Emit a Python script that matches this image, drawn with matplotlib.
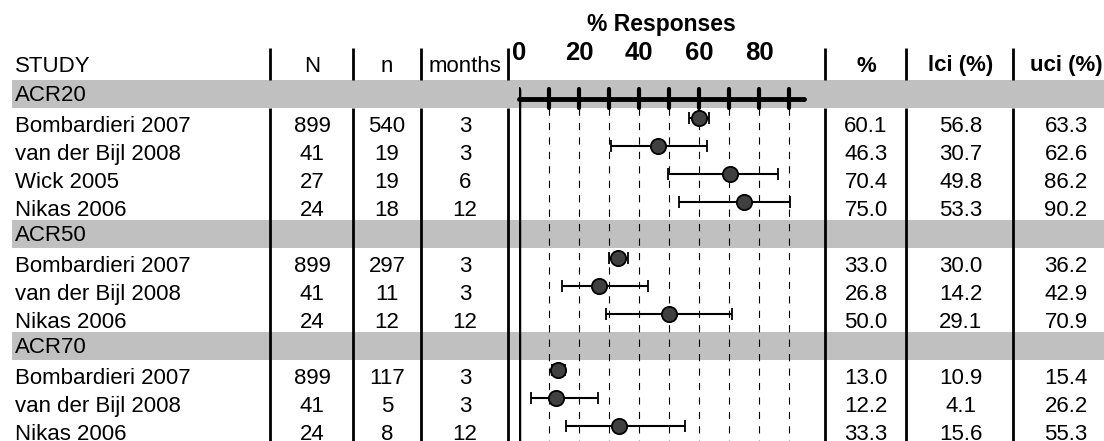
import numpy as np
import matplotlib
matplotlib.use("Agg")
import matplotlib.pyplot as plt

plt.rcParams['font.family'] = ['Liberation Sans', 'DejaVu Sans']

# ---------------- data ----------------
groups = ["ACR20", "ACR50", "ACR70"]

studies_acr20 = ["Bombardieri 2007", "van der Bijl 2008", "Wick 2005", "Nikas 2006"]
N_acr20 = [899, 41, 27, 24]
n_acr20 = [540, 19, 19, 18]
months_acr20 = [3, 3, 6, 12]
pct_acr20 = [60.1, 46.3, 70.4, 75.0]
lci_acr20 = [56.8, 30.7, 49.8, 53.3]
uci_acr20 = [63.3, 62.6, 86.2, 90.2]

studies_acr50 = ["Bombardieri 2007", "van der Bijl 2008", "Nikas 2006"]
N_acr50 = [899, 41, 24]
n_acr50 = [297, 11, 12]
months_acr50 = [3, 3, 12]
pct_acr50 = [33.0, 26.8, 50.0]
lci_acr50 = [30.0, 14.2, 29.1]
uci_acr50 = [36.2, 42.9, 70.9]

studies_acr70 = ["Bombardieri 2007", "van der Bijl 2008", "Nikas 2006"]
N_acr70 = [899, 41, 24]
n_acr70 = [117, 5, 8]
months_acr70 = [3, 3, 12]
pct_acr70 = [13.0, 12.2, 33.3]
lci_acr70 = [10.9, 4.1, 15.6]
uci_acr70 = [15.4, 26.2, 55.3]

x_ticks = [0, 10, 20, 30, 40, 50, 60, 70, 80, 90]
x_ticklabels = [0, 20, 40, 60, 80]
x_title = "% Responses"
headers_left = ["STUDY", "N", "n", "months"]
headers_right = ["%", "lci (%)", "uci (%)"]

group_data = [
    (studies_acr20, N_acr20, n_acr20, months_acr20, pct_acr20, lci_acr20, uci_acr20),
    (studies_acr50, N_acr50, n_acr50, months_acr50, pct_acr50, lci_acr50, uci_acr50),
    (studies_acr70, N_acr70, n_acr70, months_acr70, pct_acr70, lci_acr70, uci_acr70),
]

# ---------------- layout ----------------
W, H = 1104, 441
row_px = 28.0
first_center = 94.0
y_bottom = (H - first_center) / row_px
y_top = -first_center / row_px

def prow(px):
    return (px - first_center) / row_px

fig = plt.figure(figsize=(W / 100, H / 100), dpi=100)
tab = fig.add_axes([0, 0, 1, 1])
tab.set_xlim(0, W)
tab.set_ylim(y_bottom, y_top)
tab.axis('off')

fx0, fx1 = 519, 825
fa = fig.add_axes([fx0 / W, 0, (fx1 - fx0) / W, 1])
fa.set_xlim(0, (fx1 - fx0) / 3.0)
fa.set_ylim(y_bottom, y_top)
fa.axis('off')
fa.patch.set_alpha(0)

FS = 16
col_study = 15
col_N, col_n, col_m = 312, 387, 465
col_p, col_l, col_u = 866, 961, 1066
sep_left = [270, 353, 421, 508]
sep_right = [825, 906, 1013]
band_color = '#c0c0c0'

# header
hy = prow(66)
tab.text(col_study, hy, headers_left[0], ha='left', va='center', fontsize=FS)
for cx, lab in zip([col_N, col_n, col_m], headers_left[1:]):
    tab.text(cx, hy, lab, ha='center', va='center', fontsize=FS)
for cx, lab in zip([col_p, col_l, col_u], headers_right):
    tab.text(cx, hy, lab, ha='center', va='center', fontsize=FS, fontweight='bold')
tab.vlines(sep_left + sep_right, prow(48), prow(80), color='black', lw=2.0)

# rows
r = 0
all_pct, all_lci, all_uci, all_y = [], [], [], []
for g, (st, Ns, ns, ms, ps, ls, us) in zip(groups, group_data):
    tab.axhspan(r - 0.5, r + 0.5, xmin=12 / W, xmax=1, color=band_color, lw=0, zorder=0)
    tab.text(col_study, r + 0.04, g, ha='left', va='center', fontsize=FS)
    r += 1
    for s, N, n, m, p, l, u in zip(st, Ns, ns, ms, ps, ls, us):
        ty = r + 0.16
        tab.text(col_study, ty, s, ha='left', va='center', fontsize=FS)
        tab.text(col_N, ty, str(N), ha='center', va='center', fontsize=FS)
        tab.text(col_n, ty, str(n), ha='center', va='center', fontsize=FS)
        tab.text(col_m, ty, str(m), ha='center', va='center', fontsize=FS)
        tab.text(col_p, ty, f"{p:.1f}", ha='center', va='center', fontsize=FS)
        tab.text(col_l, ty, f"{l:.1f}", ha='center', va='center', fontsize=FS)
        tab.text(col_u, ty, f"{u:.1f}", ha='center', va='center', fontsize=FS)
        all_pct.append(p); all_lci.append(l); all_uci.append(u); all_y.append(r - 0.14)
        r += 1

tab.vlines(sep_left + sep_right, 0.5, y_bottom, color='black', lw=2.0, zorder=3)

# forest part
fa.vlines(0, prow(89), y_bottom, color='black', lw=2.5, zorder=3)
fa.plot([0, 95], [prow(99), prow(99)], color='black', lw=3.5,
        solid_capstyle='round', zorder=3, clip_on=False)
fa.vlines(x_ticks, prow(89), prow(108), color='black', lw=3.0,
          capstyle='round', zorder=3)
fa.vlines(x_ticks[1:], 0.5, y_bottom, color='black', lw=0.8,
          linestyles=[(0, (6.5, 6.5))], zorder=1)
for t in x_ticklabels:
    fa.text(t, prow(53), str(t), ha='center', va='center', fontsize=18.5,
            fontweight='bold', clip_on=False)
fa.text(47.5, prow(25), x_title, ha='center', va='center', fontsize=16.5,
        fontweight='bold', clip_on=False)

pct = np.array(all_pct); lci = np.array(all_lci); uci = np.array(all_uci)
fa.errorbar(pct, all_y, xerr=[pct - lci, uci - pct], fmt='o', ms=11,
            mfc='#404040', mec='black', mew=1.3, ecolor='black',
            elinewidth=1.5, capsize=4.3, capthick=1.5, zorder=4, clip_on=False)

fig.savefig("out.png", dpi=100)
